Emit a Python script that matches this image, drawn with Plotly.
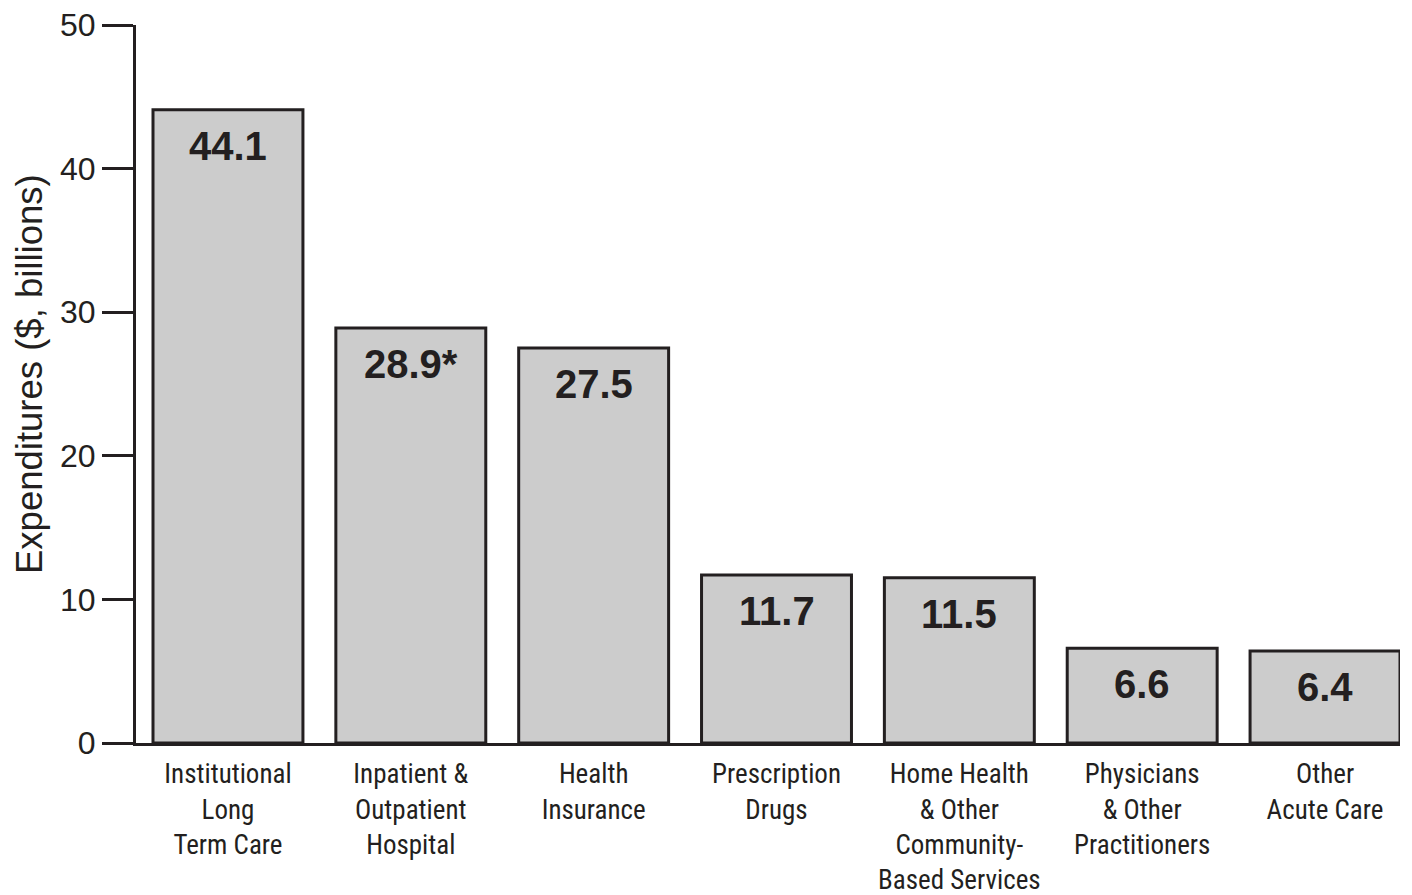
import plotly.graph_objects as go

categories = [
    "Institutional<br>Long<br>Term Care",
    "Inpatient &<br>Outpatient<br>Hospital",
    "Health<br>Insurance",
    "Prescription<br>Drugs",
    "Home Health<br>& Other<br>Community-<br>Based Services",
    "Physicians<br>& Other<br>Practitioners",
    "Other<br>Acute Care",
]
values = [44.1, 28.9, 27.5, 11.7, 11.5, 6.6, 6.4]
value_labels = ["44.1", "28.9*", "27.5", "11.7", "11.5", "6.6", "6.4"]
y_ticks = [0, 10, 20, 30, 40, 50]
y_title = "Expenditures ($, billions)"

INK = "#231f20"
# page body has an 8px default margin, so the figure is offset by 8px
W, H = 1404, 887
ML, MR, MT, MB = 128, 12, 17, 152
PW = W - ML - MR
PH = H - MT - MB

fig = go.Figure()
fig.add_trace(go.Bar(
    x=categories,
    y=values,
    marker=dict(color="#cccccc", line=dict(color=INK, width=3)),
    hoverinfo="skip",
))

for c, v, t in zip(categories, values, value_labels):
    fig.add_annotation(
        x=c, y=v, xref="x", yref="y", text=t, showarrow=False,
        yanchor="middle", yshift=-36,
        font=dict(family="Liberation Sans, Arial, sans-serif", size=40, color=INK, weight="bold"),
    )

fig.add_annotation(
    xref="paper", yref="paper",
    x=(21 - ML) / PW, y=0.5 + 10 / PH,
    text=y_title, textangle=-90, showarrow=False,
    xanchor="center", yanchor="middle",
    font=dict(family="Liberation Sans, Arial, sans-serif", size=36.5, color=INK),
)

fig.update_layout(
    width=W, height=H,
    margin=dict(l=ML, r=MR, t=MT, b=MB, autoexpand=False),
    plot_bgcolor="white", paper_bgcolor="white",
    bargap=0.18,
    showlegend=False,
    xaxis=dict(
        type="category",
        range=[-0.503, 6.41],
        showline=True, linecolor=INK, linewidth=3,
        ticks="", showgrid=False, zeroline=False,
        ticklabelstandoff=5,
        tickfont=dict(family="Liberation Sans Narrow, Roboto Condensed, Arial Narrow, sans-serif", size=27, color=INK),
        automargin=False,
        fixedrange=True,
    ),
    yaxis=dict(
        range=[0, 50],
        tickvals=y_ticks,
        showline=True, linecolor=INK, linewidth=3,
        ticks="outside", ticklen=31, tickwidth=3, tickcolor=INK,
        showgrid=False, zeroline=False,
        ticklabeloverflow="allow",
        tickfont=dict(family="Liberation Sans, Arial, sans-serif", size=32, color=INK),
        automargin=False,
        fixedrange=True,
    ),
)

fig.write_html("out.html")
